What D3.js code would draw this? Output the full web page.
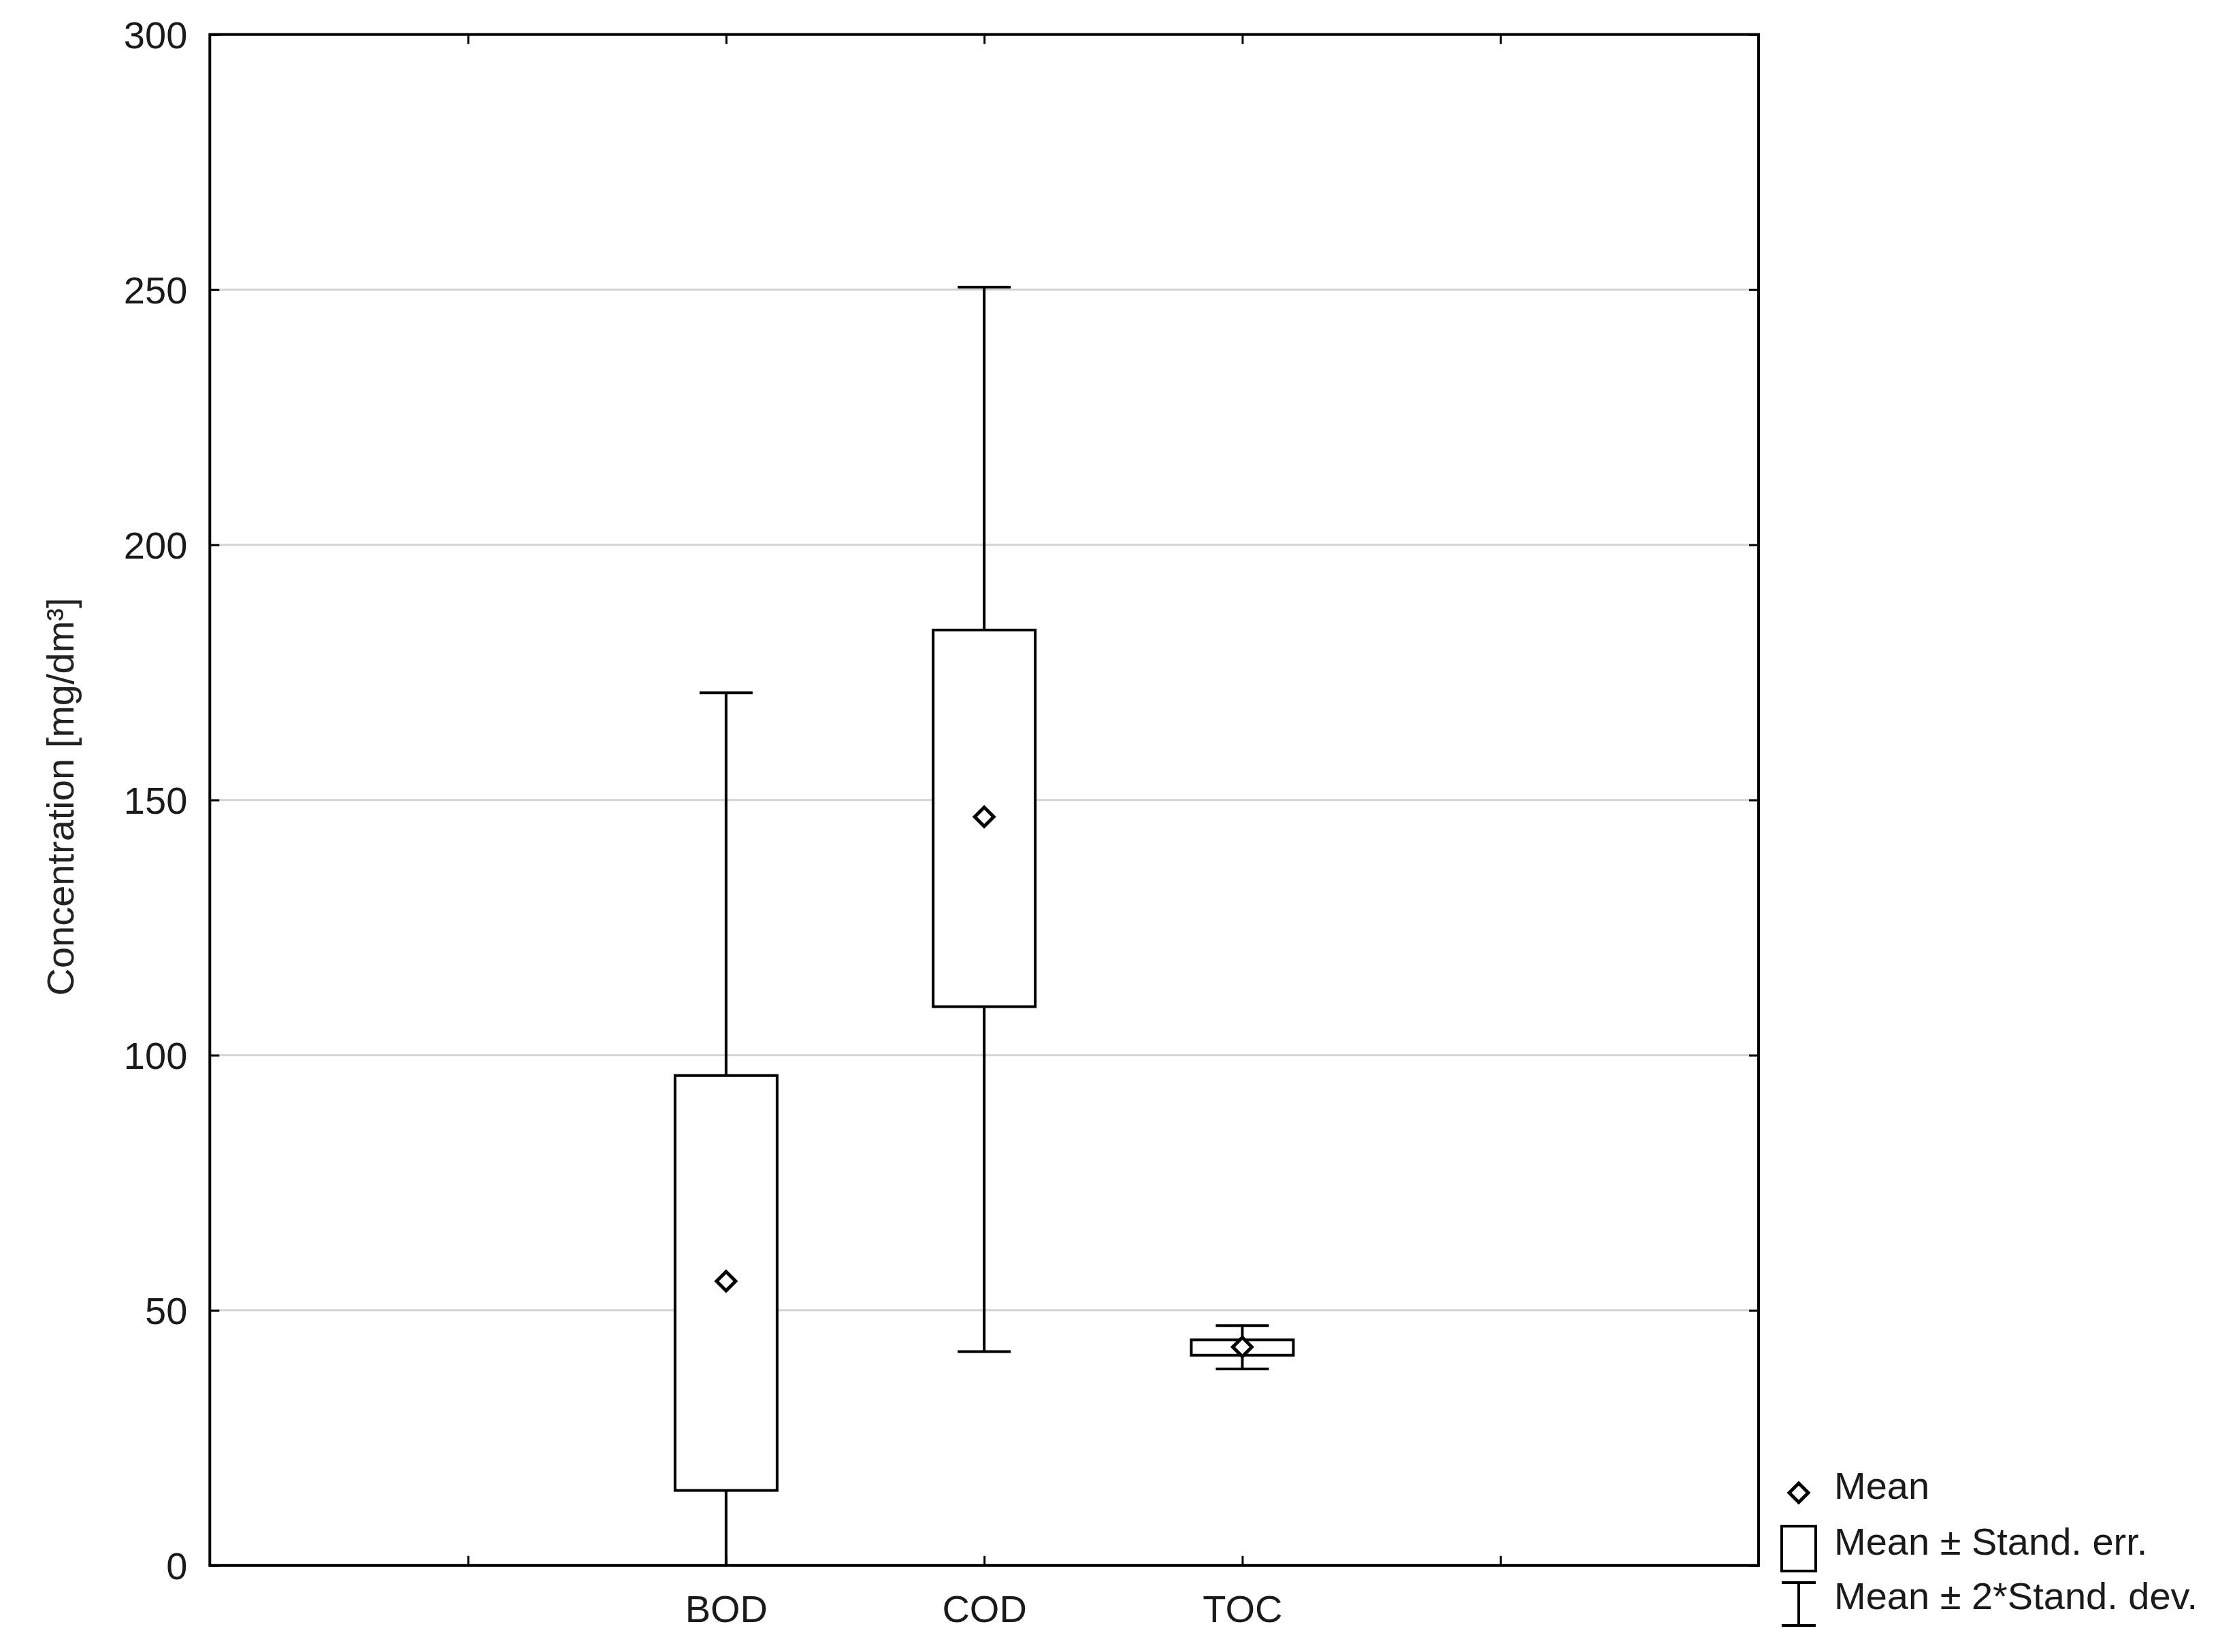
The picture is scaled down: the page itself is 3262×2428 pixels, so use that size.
<!DOCTYPE html>
<html>
<head>
<meta charset="utf-8">
<script src="https://cdn.jsdelivr.net/npm/d3@7"></script>
<style>
  html, body { margin: 0; padding: 0; background: #fff; }
  text { font-family: "Liberation Sans", Arial, sans-serif; }
</style>
</head>
<body>
<script>
// ---- data ----
const categories = ["BOD", "COD", "TOC"];
const means      = [55.7, 146.7, 42.8];
const seLow      = [14.7, 109.5, 41.2];
const seHigh     = [96.0, 183.3, 44.2];
const sdLow      = [-59.6, 41.9, 38.5];
const sdHigh     = [171.0, 250.5, 47.0];
const yTicks     = [0, 50, 100, 150, 200, 250, 300];
const xSlotLabels = ["", "BOD", "COD", "TOC", ""];
const legendItems = ["Mean", "Mean \u00B1 Stand. err.", "Mean \u00B1 2*Stand. dev."];
const yTitle = "Concentration [mg/dm\u00B3]";

// ---- layout ----
const W = 3262, H = 2428;
const L = 308.3, R = 2584, T = 50.7, B = 2300.8;
const FS = 56;

const svg = d3.select("body").append("svg")
  .attr("width", W).attr("height", H)
  .style("display", "block");

const x = d3.scaleLinear().domain([0, 6]).range([L, R]);
const y = d3.scaleLinear().domain([0, 300]).range([B, T]);
const slotOf = c => categories.indexOf(c) + 2;

// gridlines
svg.append("g").selectAll("line")
  .data(yTicks.filter(v => v > 0 && v < 300))
  .join("line")
  .attr("x1", L).attr("x2", R)
  .attr("y1", d => y(d)).attr("y2", d => y(d))
  .attr("stroke", "#d4d4d4").attr("stroke-width", 3);

// clip
svg.append("clipPath").attr("id", "plotclip")
  .append("rect").attr("x", L).attr("y", T).attr("width", R - L).attr("height", B - T);

// axes
const tickIdx = [1, 2, 3, 4, 5];
const fmtX = i => xSlotLabels[i - 1];
const xAxisB = svg.append("g").attr("transform", `translate(0,${B})`)
  .call(d3.axisBottom(x).tickValues(tickIdx).tickFormat(fmtX).tickSizeInner(-14).tickSizeOuter(0).tickPadding(34));
const xAxisT = svg.append("g").attr("transform", `translate(0,${T})`)
  .call(d3.axisTop(x).tickValues(tickIdx).tickFormat("").tickSizeInner(-14).tickSizeOuter(0));
const yAxisL = svg.append("g").attr("transform", `translate(${L},0)`)
  .call(d3.axisLeft(y).tickValues(yTicks).tickSizeInner(-14).tickSizeOuter(0).tickPadding(33));
const yAxisR = svg.append("g").attr("transform", `translate(${R},0)`)
  .call(d3.axisRight(y).tickValues(yTicks).tickFormat("").tickSizeInner(-14).tickSizeOuter(0));

[xAxisB, xAxisT, yAxisL, yAxisR].forEach(g => {
  g.select(".domain").remove();
  g.selectAll(".tick line").attr("stroke", "#000").attr("stroke-width", 3);
  g.selectAll("text").attr("font-size", FS).attr("fill", "#1a1a1a")
    .attr("font-family", "'Liberation Sans', Arial, sans-serif");
});
xAxisB.selectAll("text").attr("dy", null).attr("y", 2384 - B).attr("dominant-baseline", null);
yAxisL.selectAll("text").attr("dy", "0.36em");

// frame
svg.append("rect").attr("x", L).attr("y", T).attr("width", R - L).attr("height", B - T)
  .attr("fill", "none").attr("stroke", "#000").attr("stroke-width", 4);

// y title
svg.append("text")
  .attr("transform", `translate(108,1171) rotate(-90)`)
  .attr("text-anchor", "middle")
  .attr("font-size", FS).attr("fill", "#222")
  .text(yTitle);

// boxes
const boxW = 150, capW = 78;
const gPlot = svg.append("g").attr("clip-path", "url(#plotclip)");
const data = categories.map((c, i) => ({
  c, mean: means[i], lo: seLow[i], hi: seHigh[i], wlo: sdLow[i], whi: sdHigh[i]
}));

data.forEach(d => {
  const cx = x(slotOf(d.c));
  const g = gPlot.append("g");
  // whiskers
  g.append("line").attr("x1", cx).attr("x2", cx).attr("y1", y(d.whi)).attr("y2", y(d.hi))
    .attr("stroke", "#000").attr("stroke-width", 4);
  g.append("line").attr("x1", cx).attr("x2", cx).attr("y1", y(d.lo)).attr("y2", y(d.wlo))
    .attr("stroke", "#000").attr("stroke-width", 4);
  [d.whi, d.wlo].forEach(v => {
    g.append("line").attr("x1", cx - capW / 2).attr("x2", cx + capW / 2)
      .attr("y1", y(v)).attr("y2", y(v))
      .attr("stroke", "#000").attr("stroke-width", 4);
  });
  // box
  g.append("rect").attr("x", cx - boxW / 2).attr("width", boxW)
    .attr("y", y(d.hi)).attr("height", y(d.lo) - y(d.hi))
    .attr("fill", "#fff").attr("stroke", "#000").attr("stroke-width", 4);
  // mean diamond
  const s = 14;
  g.append("path")
    .attr("d", `M${cx},${y(d.mean) - s} L${cx + s},${y(d.mean)} L${cx},${y(d.mean) + s} L${cx - s},${y(d.mean)} Z`)
    .attr("fill", "#fff").attr("stroke", "#000").attr("stroke-width", 5);
});

// legend
const lg = svg.append("g");
const lx = 2643;
lg.append("path")
  .attr("d", `M${lx},${2194 - 14} L${lx + 14},2194 L${lx},${2194 + 14} L${lx - 14},2194 Z`)
  .attr("fill", "#fff").attr("stroke", "#000").attr("stroke-width", 5);
lg.append("rect").attr("x", lx - 25).attr("y", 2243).attr("width", 50).attr("height", 66)
  .attr("fill", "#fff").attr("stroke", "#000").attr("stroke-width", 4);
lg.append("line").attr("x1", lx).attr("x2", lx).attr("y1", 2326).attr("y2", 2389)
  .attr("stroke", "#000").attr("stroke-width", 4);
[2326, 2389].forEach(yy => lg.append("line").attr("x1", lx - 25).attr("x2", lx + 25)
  .attr("y1", yy).attr("y2", yy).attr("stroke", "#000").attr("stroke-width", 4));
const baselines = [2203, 2285, 2365];
lg.selectAll("text.lt").data(legendItems).join("text").attr("class", "lt")
  .attr("x", 2695).attr("y", (d, i) => baselines[i])
  .attr("font-size", FS).attr("fill", "#1a1a1a")
  .text(d => d);
</script>
</body>
</html>
